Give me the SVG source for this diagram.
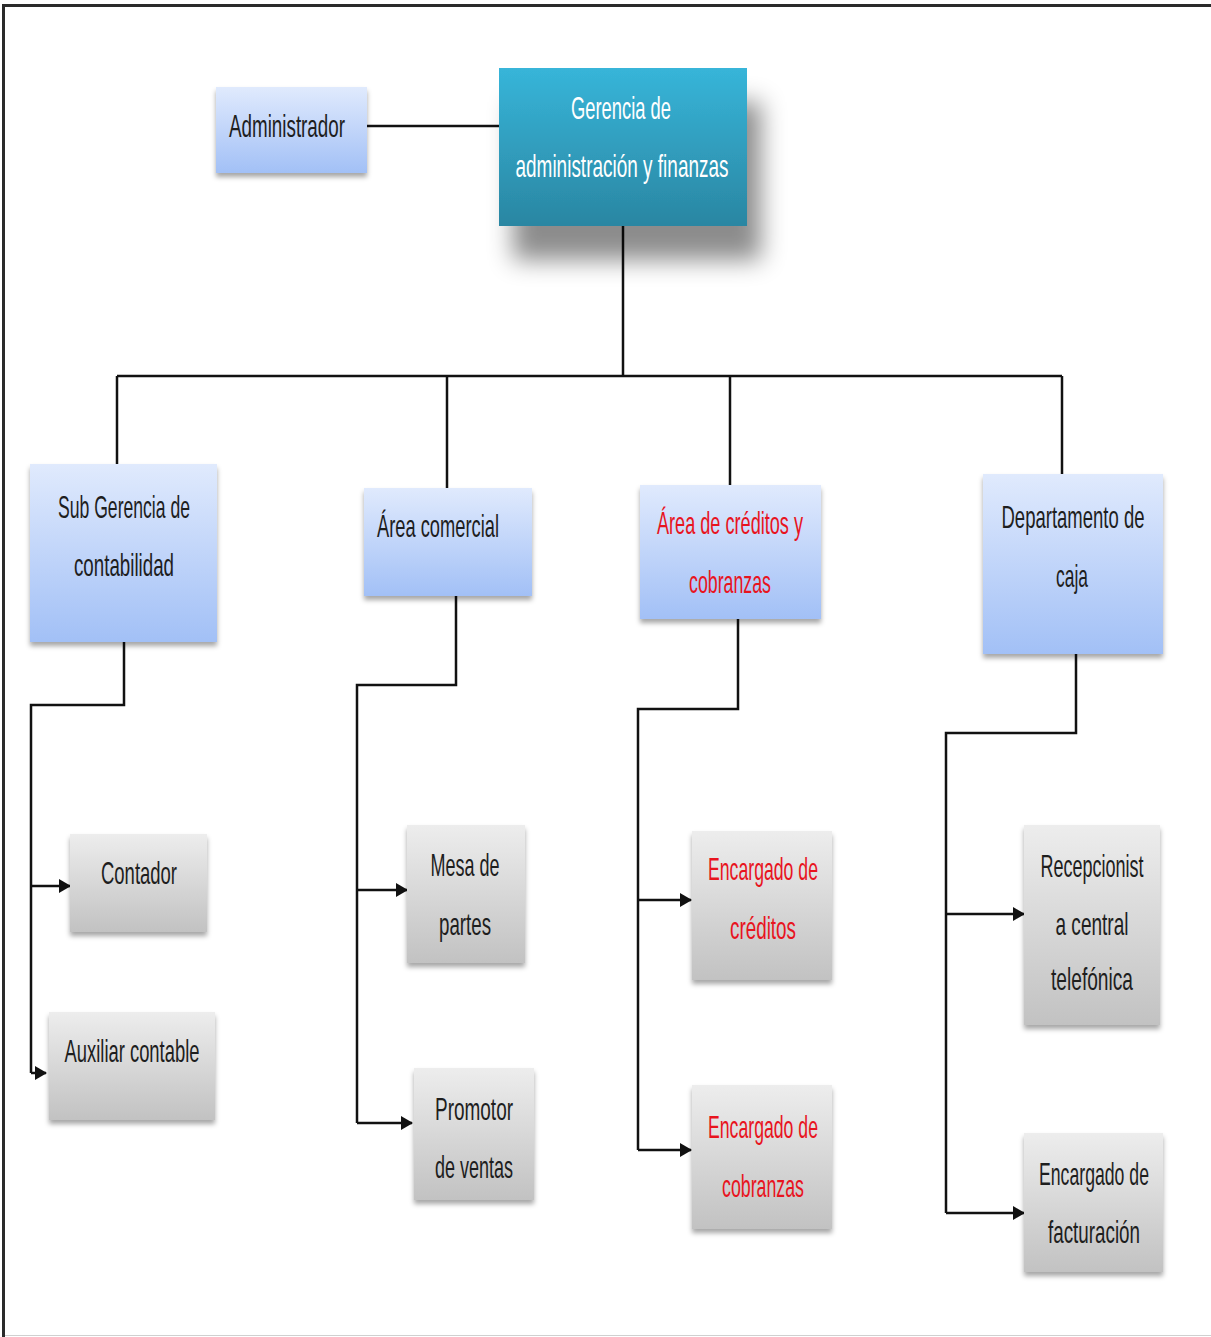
<svg xmlns="http://www.w3.org/2000/svg" width="1211" height="1337" viewBox="0 0 1211 1337">
  <defs>
    <linearGradient id="gBlue" x1="0" y1="0" x2="0" y2="1">
      <stop offset="0" stop-color="#e0eafd"/>
      <stop offset="1" stop-color="#a2c0f6"/>
    </linearGradient>
    <linearGradient id="gGray" x1="0" y1="0" x2="0" y2="1">
      <stop offset="0" stop-color="#ededed"/>
      <stop offset="1" stop-color="#c2c2c2"/>
    </linearGradient>
    <linearGradient id="gTeal" x1="0" y1="0" x2="0" y2="1">
      <stop offset="0" stop-color="#37b5d9"/>
      <stop offset="1" stop-color="#2a86a2"/>
    </linearGradient>
    <filter id="shadow" x="-10%" y="-10%" width="130%" height="130%">
      <feDropShadow dx="0" dy="4" stdDeviation="2.5" flood-color="#000" flood-opacity="0.35"/>
    </filter>
    <filter id="bigShadow" x="-30%" y="-30%" width="170%" height="190%">
      <feDropShadow dx="14" dy="34" stdDeviation="12" flood-color="#000" flood-opacity="0.45"/>
    </filter>
    <marker id="arrow" markerWidth="12" markerHeight="14" refX="11" refY="7" orient="auto" markerUnits="userSpaceOnUse">
      <path d="M0,0 L12,7 L0,14 Z" fill="#111"/>
    </marker>
  </defs>
  <style>
    .box-blue { fill: url(#gBlue); filter: url(#shadow); }
    .box-gray { fill: url(#gGray); filter: url(#shadow); }
    .box-teal { fill: url(#gTeal); filter: url(#bigShadow); }
    .lbl { font-family: "Liberation Sans Narrow", "Liberation Sans", "DejaVu Sans Condensed", sans-serif; font-size: 32px; fill: #1e1e1e; text-anchor: middle; }
    .red { fill: #e8141e; }
    .white { fill: #ffffff; }
    .link { fill: none; stroke: #111; stroke-width: 2.5; }
  </style>

  <rect width="1211" height="1337" fill="#ffffff"/>
  <!-- page frame -->
  <path d="M1211,5.5 H3.5 V1337" fill="none" stroke="#2a2a2a" stroke-width="3"/>
  <path d="M5,1335.5 H1211" fill="none" stroke="#d0d0d0" stroke-width="1"/>

  <!-- connectors -->
  <g id="connectors">
    <path class="link" d="M367,126 H499"/>
    <path class="link" d="M623,226 V376"/>
    <path class="link" d="M117,376 H1062"/>
    <path class="link" d="M117,376 V464"/>
    <path class="link" d="M447,376 V488"/>
    <path class="link" d="M730,376 V485"/>
    <path class="link" d="M1062,376 V474"/>

    <path class="link" d="M124,642 V705 H31 V1073"/>
    <path class="link" d="M31,886 H70" marker-end="url(#arrow)"/>
    <path class="link" d="M31,1073 H46" marker-end="url(#arrow)"/>

    <path class="link" d="M456,596 V685 H357 V1123"/>
    <path class="link" d="M357,890 H407" marker-end="url(#arrow)"/>
    <path class="link" d="M357,1123 H412" marker-end="url(#arrow)"/>

    <path class="link" d="M738,619 V709 H638 V1150"/>
    <path class="link" d="M638,900 H691" marker-end="url(#arrow)"/>
    <path class="link" d="M638,1150 H691" marker-end="url(#arrow)"/>

    <path class="link" d="M1076,654 V733 H946 V1213"/>
    <path class="link" d="M946,914 H1024" marker-end="url(#arrow)"/>
    <path class="link" d="M946,1213 H1024" marker-end="url(#arrow)"/>
  </g>

  <!-- top level -->
  <g id="administrador">
    <rect class="box-blue" x="216" y="87" width="151" height="86"/>
    <text class="lbl" x="287" y="137" textLength="116" lengthAdjust="spacingAndGlyphs">Administrador</text>
  </g>
  <g id="gerencia">
    <rect class="box-teal" x="499" y="68" width="248" height="158"/>
    <text class="lbl white" x="621" y="119" textLength="100" lengthAdjust="spacingAndGlyphs">Gerencia de</text>
    <text class="lbl white" x="622" y="177" textLength="213" lengthAdjust="spacingAndGlyphs">administración y finanzas</text>
  </g>

  <!-- second level -->
  <g id="sub-gerencia">
    <rect class="box-blue" x="30" y="464" width="187" height="178"/>
    <text class="lbl" x="124" y="518" textLength="132" lengthAdjust="spacingAndGlyphs">Sub Gerencia de</text>
    <text class="lbl" x="124" y="576" textLength="100" lengthAdjust="spacingAndGlyphs">contabilidad</text>
  </g>
  <g id="area-comercial">
    <rect class="box-blue" x="364" y="488" width="168" height="108"/>
    <text class="lbl" x="438" y="537" textLength="122" lengthAdjust="spacingAndGlyphs">Área comercial</text>
  </g>
  <g id="area-creditos">
    <rect class="box-blue" x="640" y="485" width="181" height="134"/>
    <text class="lbl red" x="730" y="534" textLength="146" lengthAdjust="spacingAndGlyphs">Área de créditos y</text>
    <text class="lbl red" x="730" y="593" textLength="82" lengthAdjust="spacingAndGlyphs">cobranzas</text>
  </g>
  <g id="departamento-caja">
    <rect class="box-blue" x="983" y="474" width="180" height="180"/>
    <text class="lbl" x="1073" y="528" textLength="143" lengthAdjust="spacingAndGlyphs">Departamento de</text>
    <text class="lbl" x="1072" y="587" textLength="32" lengthAdjust="spacingAndGlyphs">caja</text>
  </g>

  <!-- third level -->
  <g id="contador">
    <rect class="box-gray" x="70" y="834" width="137" height="98"/>
    <text class="lbl" x="139" y="884" textLength="76" lengthAdjust="spacingAndGlyphs">Contador</text>
  </g>
  <g id="auxiliar-contable">
    <rect class="box-gray" x="49" y="1012" width="166" height="108"/>
    <text class="lbl" x="132" y="1062" textLength="135" lengthAdjust="spacingAndGlyphs">Auxiliar contable</text>
  </g>
  <g id="mesa-partes">
    <rect class="box-gray" x="407" y="825" width="118" height="138"/>
    <text class="lbl" x="465" y="876" textLength="69" lengthAdjust="spacingAndGlyphs">Mesa de</text>
    <text class="lbl" x="465" y="935" textLength="52" lengthAdjust="spacingAndGlyphs">partes</text>
  </g>
  <g id="promotor-ventas">
    <rect class="box-gray" x="414" y="1068" width="120" height="132"/>
    <text class="lbl" x="474" y="1120" textLength="78" lengthAdjust="spacingAndGlyphs">Promotor</text>
    <text class="lbl" x="474" y="1178" textLength="78" lengthAdjust="spacingAndGlyphs">de ventas</text>
  </g>
  <g id="encargado-creditos">
    <rect class="box-gray" x="692" y="831" width="140" height="149"/>
    <text class="lbl red" x="763" y="880" textLength="110" lengthAdjust="spacingAndGlyphs">Encargado de</text>
    <text class="lbl red" x="763" y="939" textLength="66" lengthAdjust="spacingAndGlyphs">créditos</text>
  </g>
  <g id="encargado-cobranzas">
    <rect class="box-gray" x="692" y="1085" width="140" height="144"/>
    <text class="lbl red" x="763" y="1138" textLength="110" lengthAdjust="spacingAndGlyphs">Encargado de</text>
    <text class="lbl red" x="763" y="1197" textLength="82" lengthAdjust="spacingAndGlyphs">cobranzas</text>
  </g>
  <g id="recepcionista">
    <rect class="box-gray" x="1024" y="825" width="136" height="200"/>
    <text class="lbl" x="1092" y="877" textLength="103" lengthAdjust="spacingAndGlyphs">Recepcionist</text>
    <text class="lbl" x="1092" y="935" textLength="73" lengthAdjust="spacingAndGlyphs">a central</text>
    <text class="lbl" x="1092" y="990" textLength="82" lengthAdjust="spacingAndGlyphs">telefónica</text>
  </g>
  <g id="encargado-facturacion">
    <rect class="box-gray" x="1024" y="1133" width="139" height="139"/>
    <text class="lbl" x="1094" y="1185" textLength="110" lengthAdjust="spacingAndGlyphs">Encargado de</text>
    <text class="lbl" x="1094" y="1243" textLength="92" lengthAdjust="spacingAndGlyphs">facturación</text>
  </g>
</svg>
